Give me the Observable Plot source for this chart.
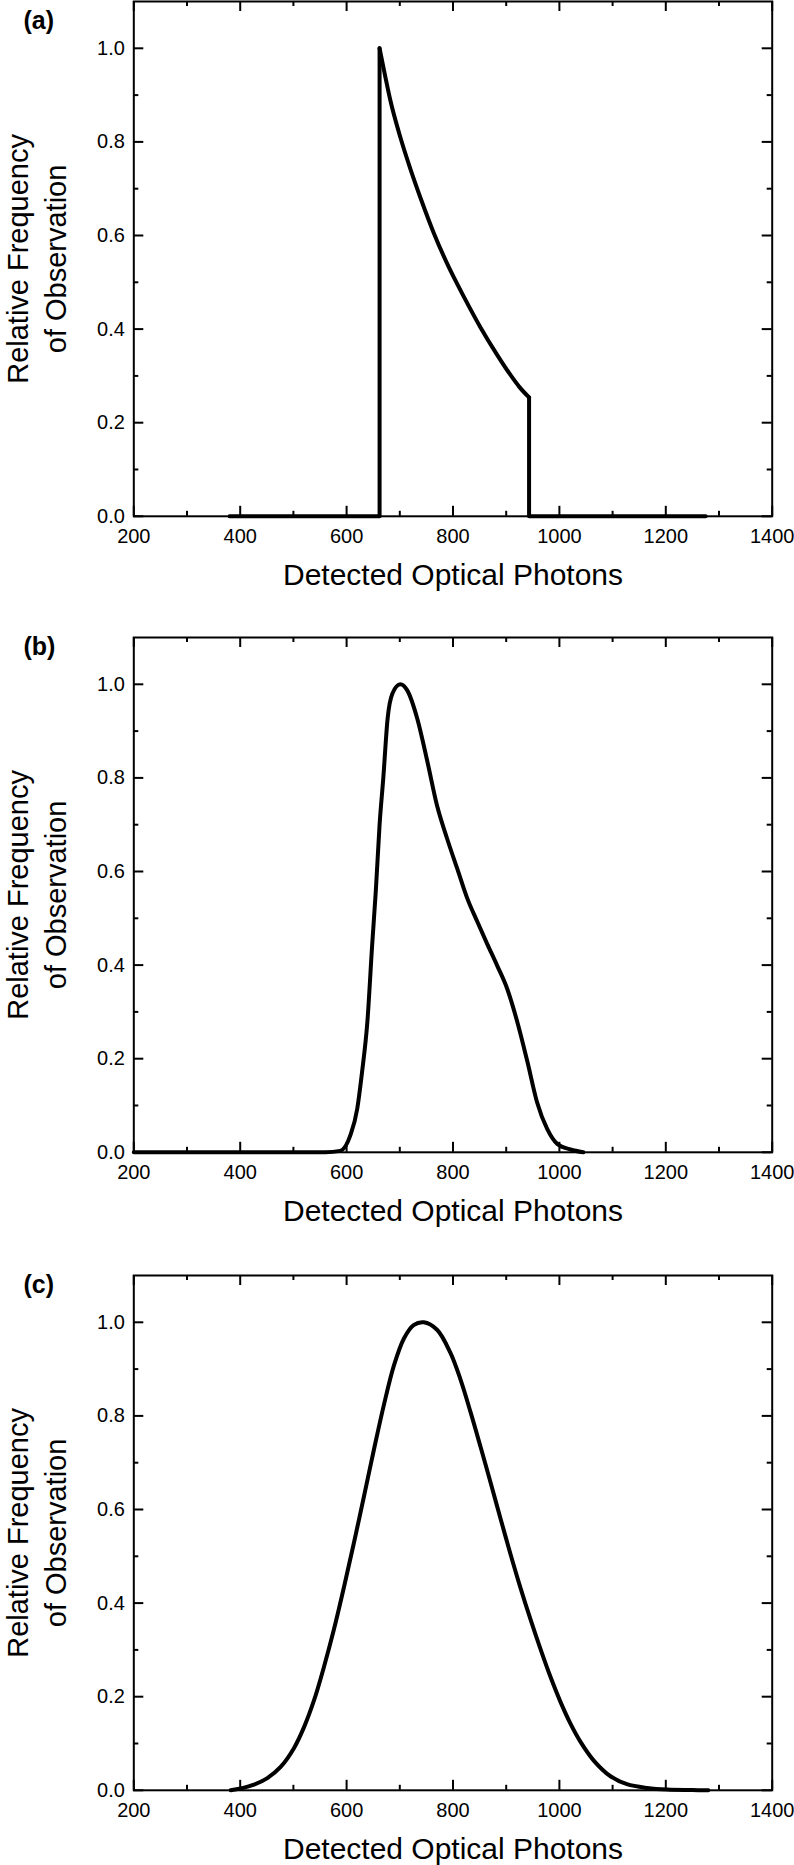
<!DOCTYPE html>
<html>
<head>
<meta charset="utf-8">
<script src="https://cdn.jsdelivr.net/npm/d3@7"></script>
<script src="https://cdn.jsdelivr.net/npm/@observablehq/plot@0.6"></script>
<style>
  html, body { margin: 0; padding: 0; background: #fff; overflow: hidden; }
  #root { position: relative; width: 794px; height: 1865px; }
  #root > div { position: absolute; left: 0; }
  svg { font-family: "Liberation Sans", Arial, sans-serif; }
</style>
</head>
<body>
<div id="root"></div>
<script>
// ---- data ----
const xTicks = [200, 400, 600, 800, 1000, 1200, 1400];
const xMinor = [300, 500, 700, 900, 1100, 1300];
const yTicks = [0, 0.2, 0.4, 0.6, 0.8, 1.0];
const yMinor = [0.1, 0.3, 0.5, 0.7, 0.9];

const panelLabels = ["(a)", "(b)", "(c)"];
const xTitle = "Detected Optical Photons";
const yTitle = "Relative Frequency\nof Observation";

// (a) truncated decay
const xA = [380, 662, 662, 673, 682, 701, 720, 740, 764, 789, 805, 820, 852, 883, 908, 925, 943, 943, 1275];
const yA = [0, 0, 1.0, 0.938, 0.89, 0.81, 0.742, 0.677, 0.605, 0.54, 0.503, 0.47, 0.403, 0.345, 0.302, 0.276, 0.254, 0, 0];

// (b) smoothed
const xB = [200, 560, 588, 607, 620, 629, 639, 648, 655, 662, 669, 677, 686, 701, 714, 733, 752, 770, 789, 808, 827, 846, 864, 883, 902, 921, 940, 958, 977, 996, 1021, 1045];
const yB = [0, 0, 0.003, 0.036, 0.093, 0.171, 0.278, 0.442, 0.56, 0.70, 0.80, 0.926, 0.98, 1.0, 0.987, 0.926, 0.834, 0.741, 0.67, 0.606, 0.542, 0.492, 0.446, 0.399, 0.349, 0.278, 0.193, 0.107, 0.05, 0.018, 0.006, 0];

// (c) broadened
const xC = [382, 401, 426, 451, 476, 501, 520, 539, 557, 576, 595, 614, 633, 651, 670, 689, 708, 726, 745, 770, 795, 814, 833, 852, 871, 889, 908, 927, 946, 965, 983, 1002, 1021, 1040, 1065, 1096, 1127, 1165, 1203, 1250, 1280];
const yC = [0, 0.004, 0.012, 0.026, 0.05, 0.09, 0.135, 0.193, 0.262, 0.343, 0.434, 0.53, 0.63, 0.726, 0.823, 0.908, 0.966, 0.994, 1.0, 0.984, 0.935, 0.878, 0.808, 0.733, 0.656, 0.582, 0.505, 0.432, 0.364, 0.30, 0.243, 0.189, 0.142, 0.103, 0.063, 0.03, 0.013, 0.005, 0.0015, 0.0005, 0];

// ---- layout ----
const W = 794;
const ML = 133.3, MR = 22.3;
const PH = 514.8;            // plot height (0 .. 1.1)
const MT = 1, MB = 78;
const panels = [
  {xs: xA, ys: yA, top: 0,      labelDy: 28,   segmented: true},
  {xs: xB, ys: yB, top: 636.2,  labelDy: 18,   curve: "monotone-x"},
  {xs: xC, ys: yC, top: 1273.5, labelDy: 17.5, curve: "catmull-rom"}
];

const lineStyle = {x: "x", y: "y", stroke: "black", strokeWidth: 4, strokeLinejoin: "round"};

const root = document.getElementById("root");
panels.forEach((p, k) => {
  const data = p.xs.map((x, i) => ({x, y: p.ys[i], i}));
  const n = data.length;
  const dataMarks = p.segmented
    ? [
        // flat + vertical rise, smooth decay, vertical drop + flat
        Plot.line(data.filter(d => d.i <= 2), {...lineStyle, curve: "linear"}),
        Plot.line(data.filter(d => d.i >= 2 && d.i <= n - 3), {...lineStyle, curve: "monotone-x"}),
        Plot.line(data.filter(d => d.i >= n - 3), {...lineStyle, curve: "linear"})
      ]
    : [Plot.line(data, {...lineStyle, curve: p.curve})];
  const chart = Plot.plot({
    width: W,
    height: MT + PH + MB,
    marginLeft: ML, marginRight: MR, marginTop: MT, marginBottom: MB,
    style: {background: "white", color: "black", fontSize: "20px", fontFamily: "'Liberation Sans', Arial, sans-serif", overflow: "visible"},
    x: {domain: [200, 1400]},
    y: {domain: [0, 1.1]},
    marks: [
      Plot.frame({stroke: "black", strokeWidth: 2}),
      // inward ticks: bottom / top
      Plot.ruleX(xTicks, {x: d => d, insetTop: PH - 10, stroke: "black", strokeWidth: 2}),
      Plot.ruleX(xMinor, {x: d => d, insetTop: PH - 5, stroke: "black", strokeWidth: 2}),
      Plot.ruleX(xTicks, {x: d => d, insetBottom: PH - 10, stroke: "black", strokeWidth: 2}),
      Plot.ruleX(xMinor, {x: d => d, insetBottom: PH - 5, stroke: "black", strokeWidth: 2}),
      // inward ticks: left / right
      Plot.ruleY(yTicks, {y: d => d, insetRight: W - ML - MR - 10, stroke: "black", strokeWidth: 2}),
      Plot.ruleY(yMinor, {y: d => d, insetRight: W - ML - MR - 5, stroke: "black", strokeWidth: 2}),
      Plot.ruleY(yTicks, {y: d => d, insetLeft: W - ML - MR - 10, stroke: "black", strokeWidth: 2}),
      Plot.ruleY(yMinor, {y: d => d, insetLeft: W - ML - MR - 5, stroke: "black", strokeWidth: 2}),
      Plot.axisX(xTicks, {tickSize: 0, tickPadding: 12, tickFormat: d => String(d), label: null, fontSize: 20}),
      Plot.axisY(yTicks, {tickSize: 0, tickPadding: 9, tickFormat: d => d.toFixed(1), label: null, fontSize: 20}),
      ...dataMarks,
      Plot.text([xTitle], {text: d => d, frameAnchor: "bottom", dy: 69, lineAnchor: "bottom", fontSize: 30, fill: "black"}),
      Plot.text([yTitle], {text: d => d, frameAnchor: "left", rotate: -90, dx: 65 - ML, lineAnchor: "bottom", lineHeight: 1.29, fontSize: 29, fill: "black", textAnchor: "middle"}),
      Plot.text([panelLabels[k]], {text: d => d, frameAnchor: "top-left", dx: 23 - ML, dy: p.labelDy, textAnchor: "start", lineAnchor: "bottom", fontSize: 25, fontWeight: "bold", fill: "black"})
    ]
  });
  const holder = document.createElement("div");
  holder.style.top = p.top + "px";
  holder.appendChild(chart);
  root.appendChild(holder);
});
</script>
</body>
</html>
